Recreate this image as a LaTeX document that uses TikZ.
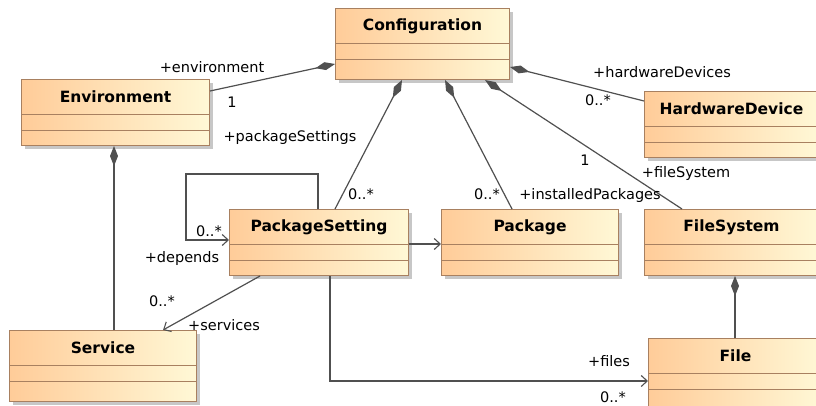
\documentclass[tikz,border=0pt]{standalone}
\usepackage{fontspec}
\setmainfont{DejaVu Sans}
\usepackage{tikz}
\usetikzlibrary{calc,positioning,shadows,arrows.meta}
\definecolor{boxleft}{RGB}{255,204,153}
\definecolor{boxright}{RGB}{255,248,214}
\definecolor{boxborder}{RGB}{168,128,96}
\definecolor{linegray}{RGB}{80,80,80}
\newcommand{\lblfont}{\fontsize{14.5}{17}\selectfont}
\newcommand{\namefont}{\fontsize{15.5}{18}\selectfont\bfseries}
\tikzset{
  classbox/.style={draw=boxborder, line width=1pt, left color=boxleft, right color=boxright,
    inner sep=0pt, drop shadow={shadow xshift=3pt, shadow yshift=-3pt, fill=black!22, opacity=1}},
  classname/.style={font=\namefont, inner sep=0pt},
  boxsep/.style={draw=boxborder, line width=1pt},
  lbl/.style={font=\lblfont, inner sep=0pt},
  conn/.style={draw=linegray, line width=1.2pt},
  composed/.style={conn, -{Diamond[length=20pt,width=8pt]}},
  navig/.style={conn, -{Straight Barb[length=6pt,width=11pt,line width=1.1pt]}}
}
% class box: name, x, y, width, height, title
\newcommand{\umlclass}[6]{%
  \node[classbox, minimum width=#4pt, minimum height=#5pt, anchor=north west] (#1) at (#2,#3) {};
  \node[classname] (#1-name) at ([yshift=-18pt]#1.north) {#6};
  \draw[boxsep] ([yshift=-35pt]#1.north west) -- ([yshift=-35pt]#1.north east);
  \draw[boxsep] ([yshift=-51pt]#1.north west) -- ([yshift=-51pt]#1.north east);
}
\begin{document}
\begin{tikzpicture}[x=1pt,y=-1pt]
\useasboundingbox (0,0) rectangle (816,405);
\umlclass{conf}{335}{8}{174}{71}{Configuration}
\umlclass{env}{21}{79}{188}{66}{Environment}
\umlclass{hw}{644}{91}{174}{66}{HardwareDevice}
\umlclass{pset}{229}{209}{179}{66}{PackageSetting}
\umlclass{pkg}{441}{209}{177}{66}{Package}
\umlclass{fsys}{644}{209}{174}{66}{FileSystem}
\umlclass{svc}{9}{330}{187}{71}{Service}
\umlclass{file}{648}{338}{174}{70}{File}
\coordinate (loop) at (186,174);
\draw[composed] ([yshift=-12pt]env.north east) -- ([yshift=-56pt]conf.north west);
\draw[composed] ([xshift=106pt]pset.north west) -- ([xshift=67pt]conf.south west);
\draw[composed] ([xshift=71pt]pkg.north west) -- ([xshift=110pt]conf.south west);
\draw[composed] ([xshift=38pt]fsys.north west) -- ([xshift=150pt]conf.south west);
\draw[composed] ([yshift=-10pt]hw.north west) -- ([yshift=-59pt]conf.north east);
\draw[composed] ([xshift=105pt]svc.north west) -- ([xshift=93pt]env.south west);
\draw[composed] ([xshift=87pt]file.north west) -- ([xshift=91pt]fsys.south west);
\draw[navig] ([xshift=89pt]pset.north west) |- (loop) |- ([yshift=-31pt]pset.north west);
\draw[navig] ([yshift=-35pt]pset.north east) -- ([yshift=-35pt]pkg.north west);
\draw[navig] ([xshift=31pt]pset.south west) -- ([xshift=154pt]svc.north west);
\draw[navig] ([xshift=101pt]pset.south west) |- ([yshift=-43pt]file.north west);
\node[lbl] (envrole) at (212,67) {+environment};
\node[lbl] (envmult) at (232,102) {1};
\node[lbl] (psetrole) at (290,137) {+packageSettings};
\node[lbl] (psetmult) at (361,194) {0..*};
\node[lbl] (pkgmult) at (487,194) {0..*};
\node[lbl] (pkgrole) at (590,195) {+installedPackages};
\node[lbl] (fsysmult) at (585,160) {1};
\node[lbl] (fsysrole) at (686,173) {+fileSystem};
\node[lbl] (hwrole) at (662,72) {+hardwareDevices};
\node[lbl] (hwmult) at (598,100) {0..*};
\node[lbl] (depmult) at (209,231) {0..*};
\node[lbl] (deprole) at (182,258) {+depends};
\node[lbl] (svcmult) at (162,301) {0..*};
\node[lbl] (svcrole) at (224,325) {+services};
\node[lbl] (filerole) at (609,361) {+files};
\node[lbl] (filemult) at (613,397) {0..*};
\end{tikzpicture}
\end{document}
